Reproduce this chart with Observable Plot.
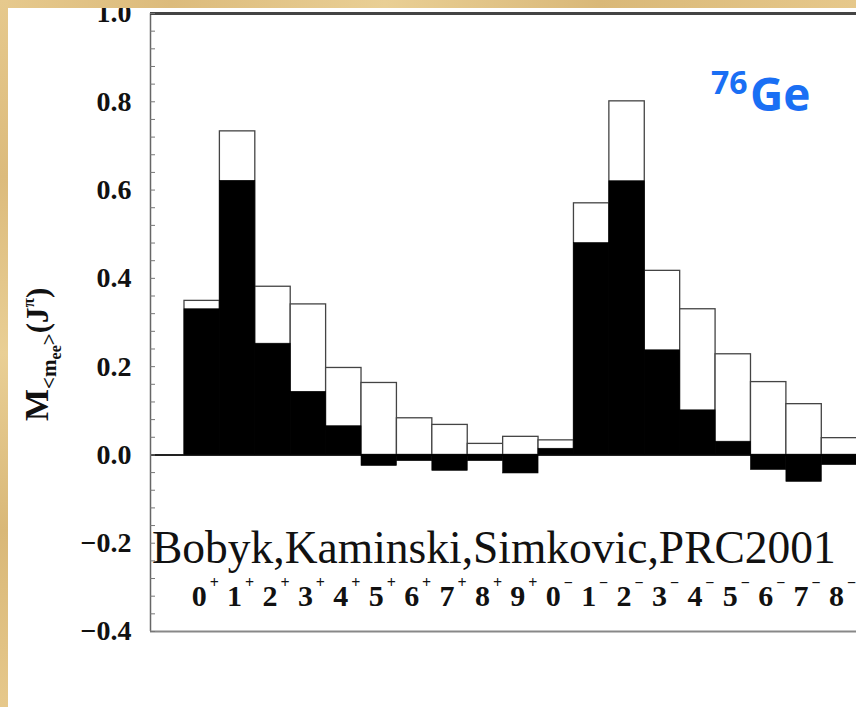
<!DOCTYPE html>
<html>
<head>
<meta charset="utf-8">
<script src="https://cdn.jsdelivr.net/npm/d3@7"></script>
<script src="https://cdn.jsdelivr.net/npm/@observablehq/plot@0.6"></script>
<style>
  html, body { margin: 0; padding: 0; width: 856px; height: 707px; overflow: hidden; background: #fff; }
  #wrap { position: relative; width: 856px; height: 707px; }
  #chart { position: absolute; left: 0; top: 0; }
  .band { position: absolute; left: 0; top: 0;
    background: linear-gradient(90deg, #e6c98d 0%, #dcbb7c 20%, #e9cf95 45%, #d9b878 70%, #e6c88b 100%); }
  #bandTop { width: 856px; height: 8px; }
  #bandLeft { width: 8px; height: 707px;
    background: linear-gradient(180deg, #e6c98d 0%, #dcbb7c 25%, #e9cf95 50%, #d9b878 75%, #e6c88b 100%); }
</style>
</head>
<body>
<div id="wrap">
  <div id="chart"></div>
  <div id="bandTop" class="band"></div>
  <div id="bandLeft" class="band"></div>
</div>
<script>
// Multipolarity J^pi of the intermediate states
const spins    = [0, 1, 2, 3, 4, 5, 6, 7, 8, 9, 0, 1, 2, 3, 4, 5, 6, 7, 8];
const parities = ["+", "+", "+", "+", "+", "+", "+", "+", "+", "+",
                  "−", "−", "−", "−", "−", "−", "−", "−", "−"];
// open (outlined) bars
const openValues  = [0.349, 0.733, 0.381, 0.341, 0.197, 0.163, 0.083, 0.068, 0.025, 0.041,
                     0.033, 0.570, 0.801, 0.417, 0.330, 0.228, 0.165, 0.115, 0.038];
// filled (black) bars
const blackValues = [0.330, 0.621, 0.252, 0.143, 0.065, -0.025, -0.014, -0.036, -0.014, -0.042,
                     0.014, 0.480, 0.620, 0.237, 0.101, 0.030, -0.034, -0.061, -0.023];
const yTickValues = [-0.4, -0.2, 0.0, 0.2, 0.4, 0.6, 0.8, 1.0];
const yMinorTicks = d3.range(-10, 26).map(k => k * 0.04);
const xDomain = [-0.96, 18.98];
const yDomain = [-0.4, 1.0];
const creditText = "Bobyk,Kaminski,Simkovic,PRC2001";

const rows = spins.map((j, i) => ({i, j, p: parities[i], open: openValues[i], black: blackValues[i]}));

const W = 856, H = 707, mL = 150, mT = 13, mB = 76;
const serif = "'Liberation Serif', 'Times New Roman', Times, serif";

const chart = Plot.plot({
  width: W, height: H,
  marginLeft: mL, marginRight: 0, marginTop: mT, marginBottom: mB,
  x: {domain: xDomain, axis: null},
  y: {domain: yDomain, axis: null},
  style: {fontFamily: serif, background: "white"},
  marks: [
    Plot.rect(rows, {x1: "i", x2: d => d.i + 1, y1: 0, y2: "open",
      fill: "white", stroke: "#444", strokeWidth: 1.3}),
    Plot.ruleY([0], {stroke: "#222", strokeWidth: 2}),
    Plot.rect(rows, {x1: "i", x2: d => d.i + 1, y1: 0, y2: "black",
      fill: "black", stroke: "black", strokeWidth: 0.6}),
    // frame lines
    Plot.ruleX([xDomain[0]], {stroke: "#666", strokeWidth: 1.5}),
    Plot.ruleY([yDomain[1]], {stroke: "#444", strokeWidth: 3}),
    Plot.ruleY([yDomain[0]], {stroke: "#888", strokeWidth: 1.8}),
    // inward minor ticks
    Plot.tickY(yMinorTicks, {y: d => d, insetRight: W - mL - 5, stroke: "#777", strokeWidth: 1}),
    Plot.axisY({ticks: yTickValues, tickSize: 0, tickPadding: 19, tickFormat: d3.format(".1f"),
      fontSize: 28, fontWeight: "bold", fill: "#111"}),
    // x category labels
    Plot.text(rows, {x: d => d.i + 0.5, frameAnchor: "bottom", text: d => String(d.j),
      dx: -3, dy: -26, lineAnchor: "bottom", fontSize: 30, fontWeight: "bold", fill: "#111"}),
    Plot.text(rows, {x: d => d.i + 0.5, frameAnchor: "bottom", text: "p",
      dx: 12, dy: -44, lineAnchor: "bottom", fontSize: 16, fontWeight: "bold", fill: "#111"})
  ]
});

const svg = d3.select(chart);

// Y axis label: M_{<m_ee>}(J^pi)
const yl = svg.append("text")
  .attr("transform", "translate(48,421) rotate(-90)")
  .attr("text-anchor", "start")
  .attr("font-family", serif).attr("font-weight", "bold").attr("fill", "#111");
yl.append("tspan").attr("font-size", 34).text("M");
yl.append("tspan").attr("font-size", 21).attr("dy", 8).text("<m");
yl.append("tspan").attr("font-size", 16).attr("dy", 5).text("ee");
yl.append("tspan").attr("font-size", 21).attr("dy", -5).text(">");
yl.append("tspan").attr("font-size", 31).attr("dy", -8).text("(J");
yl.append("tspan").attr("font-size", 17).attr("dy", -14).text("π");
yl.append("tspan").attr("font-size", 31).attr("dy", 14).text(")");

// Credit annotation
svg.append("text")
  .attr("x", 152).attr("y", 563)
  .attr("text-anchor", "start")
  .attr("font-family", "'Liberation Serif', 'DejaVu Serif', serif")
  .attr("font-size", 45.5).attr("fill", "#111")
  .text(creditText);

// Isotope label 76Ge
const iso = svg.append("text")
  .attr("text-anchor", "start")
  .attr("font-family", "'Open Sans', 'DejaVu Sans', sans-serif")
  .attr("font-weight", "bold").attr("fill", "#1a6ff4");
iso.append("tspan").attr("x", 711).attr("y", 94).attr("font-size", 32).text("76");
iso.append("tspan").attr("x", 750).attr("y", 111).attr("font-size", 46).text("Ge");

document.getElementById("chart").appendChild(chart);
</script>
</body>
</html>
